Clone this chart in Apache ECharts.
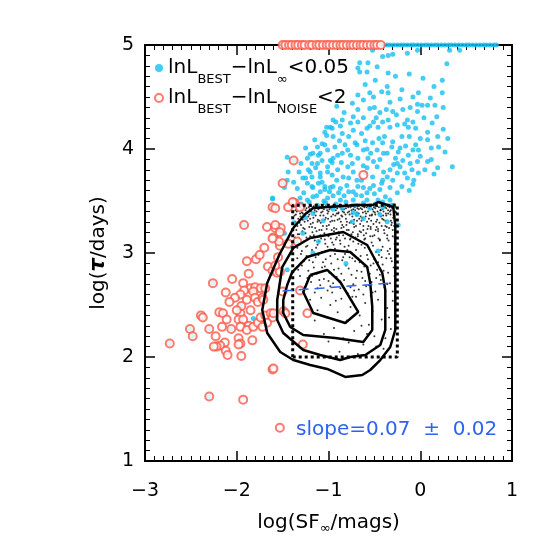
<!DOCTYPE html>
<html><head><meta charset="utf-8">
<script src="https://cdn.jsdelivr.net/npm/echarts@6/dist/echarts.min.js"></script>
<style>html,body{margin:0;padding:0;background:#fff}#c{width:554px;height:554px}</style>
</head><body><div id="c"></div>
<script>
const xTicks = [-3, -2, -1, 0, 1];
const yTicks = [1, 2, 3, 4, 5];
const legendLabels = ['{m|lnL}{s|BEST}{m|−lnL}{s|∞}{m|<0.05}', '{m|lnL}{s|BEST}{m|−lnL}{s|NOISE}{m|<2}'];
const slopeText = 'slope=0.07  ±  0.02';

const blueDots = [
[-0.52,4.95],[-0.41,4.89],[-0.35,4.90],[-0.30,4.91],[-0.14,4.92],[-0.03,4.95],[0.32,4.95],[0.43,4.95],
[-0.66,4.83],[-0.57,4.83],[0.29,4.82],[-0.68,4.78],[-0.47,4.79],
[-0.66,4.74],[-0.58,4.74],[-0.35,4.73],[-0.27,4.70],[0.03,4.68],[0.24,4.66],[-0.49,4.66],
[-0.36,4.60],[-0.68,4.52],[-0.55,4.54],[-0.51,4.50],[-0.35,4.54],[-0.02,4.54],[-0.08,4.50],[0.11,4.49],[0.24,4.54],
[-0.91,4.41],[-0.74,4.44],[-0.55,4.39],[-0.44,4.35],[-0.33,4.45],[-0.19,4.38],[-0.11,4.40],[-0.03,4.43],[0.02,4.42],[0.08,4.42],[0.16,4.42],[0.25,4.40],[-0.03,4.36],[0.18,4.31],
[-0.68,4.38],[-0.73,4.31],[-0.68,4.26],[-0.85,4.28],[-0.92,4.26],[-1.02,4.21],[-1.04,4.16],[-1.02,4.13],[-0.96,4.20],[-0.85,4.15],[-0.51,4.26],[-0.55,4.22],[-0.46,4.21],[-0.41,4.26],[-0.35,4.28],[-0.33,4.21],[-0.25,4.23],[-0.14,4.28],[-0.08,4.26],[-0.13,4.21],[-0.05,4.20],[0.08,4.16],[0.25,4.19],[0.19,4.12],[0.08,4.09],
[-1.25,4.01],[-1.12,4.02],[-1.23,3.91],[-1.11,3.94],[-1.01,3.99],[-0.95,3.91],[-0.96,3.87],[-0.85,3.96],[-0.82,4.04],[-0.76,3.94],[-0.71,4.06],[-0.68,3.91],[-0.62,3.99],[-0.57,3.91],[-0.52,4.06],[-0.47,3.99],[-0.41,4.06],[-0.36,3.96],[-0.31,4.02],[-0.27,3.91],[-0.24,3.97],[-0.19,3.89],[-0.13,3.94],[-0.08,3.99],[-0.02,3.99],[-0.03,3.88],[0.08,3.88],[0.05,3.80],[0.19,3.82],[0.35,3.83],[0.20,4.02],[-0.05,4.04],
[-1.22,3.80],[-1.14,3.82],[-1.09,3.73],[-1.01,3.78],[-0.96,3.75],[-0.90,3.80],[-0.84,3.73],[-0.79,3.83],[-0.73,3.78],[-0.69,3.70],[-0.58,3.82],[-0.52,3.73],[-0.47,3.83],[-0.41,3.70],[-0.36,3.73],[-0.33,3.80],[-0.25,3.77],[-0.22,3.83],[-0.14,3.72],[-0.09,3.80],[-0.02,3.77],[-1.25,3.72],
[-1.18,3.64],[-1.11,3.67],[-1.04,3.61],[-0.95,3.64],[-0.89,3.58],[-0.80,3.65],[-0.73,3.59],[-0.68,3.64],[-0.58,3.58],[-0.51,3.65],[-0.44,3.61],[-0.38,3.54],[-0.33,3.63],[-0.25,3.58],[-1.17,3.54],[-1.01,3.53],[-0.87,3.51],[-0.73,3.51],[-0.58,3.51],[-0.46,3.51],[-0.33,3.51],[-0.91,3.70],
[-0.98,4.21],[-0.95,4.28],[-1.04,4.04],[-1.17,3.96],[-1.09,3.96],[-1.07,3.89],[-0.98,3.89],[-1.01,3.83],[-1.20,3.78],[-1.09,3.77],[-1.28,3.72],[-1.18,3.73],[-1.23,3.67],[-1.17,3.63],[-1.07,3.68],[-1.04,3.64],[-0.98,3.63],[-1.09,3.59],[-1.44,3.78],[-1.45,3.70],[-1.48,3.63],[-1.38,3.51],[-1.31,3.53],[-1.23,3.51],[-1.61,3.53],[-1.45,3.92],
[-0.88,4.08],[-0.78,4.12],[-0.64,4.15],[-0.60,4.08],[-0.39,4.12],[-0.30,4.07],[-0.20,4.12],[-0.16,4.03],[0.00,4.10],[0.12,4.01],[0.27,3.97],[-1.15,4.09],[-0.93,4.02],[-0.74,3.86],[-0.62,3.84],[-0.54,3.96],[-0.44,3.90],[-0.29,3.85],[-0.17,3.77],[0.12,3.90],[-0.86,3.87],[-1.18,3.86],[-1.30,3.86],[-1.34,3.62],[-0.64,3.70],[-0.55,3.62],[-0.40,3.78],[-0.20,3.64],[-0.12,3.60],[-0.07,3.70],[-0.95,3.55],[-0.64,3.55],[-0.78,3.59],[-1.05,3.50],[-0.83,4.35],[-0.62,4.47],[-0.42,4.55],[-0.22,4.48],[0.04,4.30],[-0.30,4.36],
[-0.95,4.12],[-0.87,4.22],[-0.76,4.25],[-0.62,4.30],[-0.58,4.20],[-0.48,4.30],[-0.37,4.38],[-0.26,4.33],[-0.17,4.24],[0.13,4.25],[0.30,4.10],[-0.12,4.12],[-0.45,4.10],[-0.69,4.04],[-0.79,3.99],[-0.90,3.94],[-1.07,4.05],[-1.20,3.95],[-1.32,3.78],[-1.38,3.68],[-1.27,3.58],[-1.13,3.55],[-0.99,3.59],[-0.83,3.55],[-0.70,3.56],[-0.62,3.63],[-0.50,3.57],[-0.42,3.67],[-0.30,3.70],[-0.25,3.86],[-0.11,3.86],[0.00,3.93],[0.15,3.76],[-0.08,3.66],[-0.60,3.77],[-0.78,3.72],[-0.87,3.62],[-1.12,3.86],[-0.51,3.88],[-0.40,3.96],[-0.22,4.01],[-0.58,4.00],[-0.73,4.18],[-0.50,4.40],[-0.20,4.57],[0.15,4.60],[-0.60,4.62],[-0.12,4.72],
[-1.30,3.47],[-1.21,3.49],[-1.12,3.46],[-1.03,3.48],[-0.92,3.47],[-0.81,3.49],[-0.71,3.46],[-0.62,3.48],[-0.49,3.47],[-0.41,3.49],[-0.29,3.46],
[-1.38,3.29],[-1.25,3.34],[-1.17,3.38],[-1.06,3.31],[-1.28,3.19],[-1.35,3.10],[-1.11,3.11],[-1.17,3.00],[-0.81,2.90],[-0.46,3.02],[-0.74,3.30],[-0.62,3.33],[-0.44,3.37],[-0.36,3.30],[-0.24,3.27],[-0.69,3.37],[-0.95,3.42],[-0.85,3.43],[-0.55,3.43],[-0.31,3.46],[-1.48,3.19],[-1.53,3.24],[-1.40,3.06],[-0.73,3.39],[-0.41,3.44],[-1.45,2.84],
[-1.92,3.27],[-2.26,2.71],[-2.39,2.40],[-2.37,2.38],[-2.51,2.27],[-2.48,2.20],[-2.30,2.27],[-2.25,2.10],[-2.73,2.13],[-2.30,1.62],[-1.95,2.49],[-1.82,2.37],[-2.06,2.27],[-1.38,3.89],[-1.50,3.67],[-1.61,3.44],[-1.61,3.52]
];
const topBlueX = [-0.40,-0.36,-0.33,-0.29,-0.25,-0.21,-0.18,-0.14,-0.10,-0.07,-0.03,0.01,0.05,0.08,0.12,0.16,0.19,0.23,0.27,0.31,0.34,0.38,0.42,0.46,0.50,0.53,0.57,0.61,0.65,0.69,0.72,0.76,0.80,0.83];

const redCircles = [
[-1.67,3.25],[-1.58,3.24],[-1.60,3.15],[-1.53,3.07],[-1.89,2.92],[-1.79,2.94],[-1.87,2.80],[-1.66,2.87],[-1.61,2.83],[-1.56,2.81],[-1.53,2.82],[-1.93,2.71],[-1.85,2.66],[-1.80,2.67],[-1.74,2.66],[-1.82,2.63],[-1.92,2.64],[-1.96,2.60],[-2.02,2.57],[-2.08,2.53],[-1.89,2.55],[-1.80,2.57],[-1.77,2.53],[-1.72,2.57],[-1.96,2.42],[-1.98,2.36],[-1.93,2.36],[-1.87,2.30],[-1.96,2.29],[-1.89,2.26],[-1.82,2.29],[-1.77,2.33],[-1.74,2.38],[-1.69,2.40],[-1.63,2.42],[-2.19,2.43],[-2.15,2.42],[-2.11,2.36],[-2.16,2.29],[-2.23,2.20],[-2.13,2.14],[-2.18,2.11],[-2.22,2.10],[-2.12,2.06],[-2.10,2.02],[-1.98,2.18],[-1.83,2.16],[-1.96,2.13],[-1.98,2.12],[-1.95,2.01],[-1.61,1.88],[-1.93,1.59],[-1.61,2.38],[-1.49,2.44],[-1.53,1.32],
[-1.38,3.89],[-1.50,3.67],[-1.37,3.48],[-1.61,3.44],[-1.58,3.43],[-1.44,3.44],[-1.92,3.27],[-1.52,3.24],[-1.54,3.11],[-1.44,3.09],[-1.34,3.11],
[-1.39,3.49],[-1.31,3.44],[-1.58,3.27],[-1.53,3.20],[-1.61,3.14],[-1.55,2.96],[-1.58,2.88],[-1.69,2.66],[-1.71,2.55],[-1.60,2.42],[-1.67,2.33],[-1.72,2.29],[-1.47,2.42],[-1.31,2.64],[-1.50,2.63],[-1.23,2.42],[-1.28,2.12],[-1.60,1.89],[-0.62,3.75],
[-2.26,2.71],[-2.39,2.40],[-2.37,2.38],[-2.51,2.27],[-2.48,2.20],[-2.30,2.27],[-2.25,2.10],[-2.73,2.13],[-2.30,1.62],[-1.95,2.49],[-2.06,2.27],
[-2.05,2.75],[-2.12,2.62],[-1.70,3.05],[-1.75,2.98],[-2.00,2.45],[-1.85,2.45]
];
const topRedX = [-1.50,-1.47,-1.43,-1.40,-1.36,-1.33,-1.29,-1.26,-1.21,-1.18,-1.13,-1.10,-1.06,-1.02,-0.99,-0.95,-0.91,-0.87,-0.84,-0.80,-0.76,-0.73,-0.69,-0.65,-0.62,-0.58,-0.54,-0.50,-0.47,-0.43];
const topRowY = 5;

const blackDots = [
[-1.36,3.41],[-1.35,3.22],[-1.34,3.05],[-1.33,3.33],[-1.32,3.14],[-1.31,3.44],[-1.30,3.27],[-1.29,3.02],[-1.28,3.38],[-1.27,3.11],[-1.26,3.30],[-1.25,3.19],[-1.24,3.43],[-1.23,3.07],[-1.22,3.35],[-1.21,3.25],[-1.20,3.16],[-1.19,3.40],[-1.18,3.03],[-1.17,3.29],[-1.16,3.45],[-1.15,3.12],[-1.14,3.36],[-1.13,3.21],[-1.12,3.08],[-1.11,3.42],[-1.10,3.31],[-1.09,3.17],[-1.08,3.39],[-1.07,3.01],[-1.06,3.26],[-1.05,3.44],[-1.04,3.13],[-1.03,3.34],[-1.02,3.23],[-1.01,3.06],[-1.00,3.40],[-0.99,3.18],[-0.98,3.30],[-0.97,3.43],[-0.96,3.10],[-0.95,3.37],[-0.94,3.24],[-0.93,3.04],[-0.92,3.41],[-0.91,3.15],[-0.90,3.32],[-0.89,3.20],[-0.88,3.45],[-0.87,3.09],[-0.86,3.36],[-0.85,3.27],[-0.84,3.02],[-0.83,3.42],[-0.82,3.14],[-0.81,3.33],[-0.80,3.22],[-0.79,3.39],[-0.78,3.07],[-0.77,3.29],[-0.76,3.44],[-0.75,3.18],[-0.74,3.35],[-0.73,3.11],[-0.72,3.25],[-0.71,3.41],[-0.70,3.03],[-0.69,3.31],[-0.68,3.16],[-0.67,3.38],[-0.66,3.21],[-0.65,3.43],[-0.64,3.08],[-0.63,3.34],[-0.62,3.26],[-0.61,3.13],[-0.60,3.40],[-0.59,3.19],[-0.58,3.30],[-0.57,3.45],[-0.56,3.05],[-0.55,3.36],[-0.54,3.23],[-0.53,3.10],[-0.52,3.42],[-0.51,3.28],[-0.50,3.17],[-0.49,3.37],[-0.48,3.01],[-0.47,3.32],[-0.46,3.21],[-0.45,3.44],[-0.44,3.12],[-0.43,3.35],[-0.42,3.26],[-0.41,3.06],[-0.40,3.40],[-0.39,3.19],[-0.38,3.31],[-0.37,3.43],[-0.36,3.14],[-0.35,3.38],[-0.34,3.24],[-0.33,3.04],[-0.32,3.41],[-0.31,3.29],[-0.30,3.16],[-0.29,3.36],[-0.28,3.09],[-0.27,3.44],
[-1.355,3.37],[-1.335,3.18],[-1.315,3.29],[-1.295,3.42],[-1.275,3.24],[-1.255,3.35],[-1.235,3.13],[-1.215,3.44],[-1.195,3.28],[-1.175,3.20],[-1.155,3.39],[-1.135,3.05],[-1.115,3.32],[-1.095,3.43],[-1.075,3.22],[-1.055,3.36],[-1.035,3.09],[-1.015,3.41],[-0.995,3.27],[-0.975,3.14],[-0.955,3.44],[-0.935,3.31],[-0.915,3.23],[-0.895,3.38],[-0.875,3.12],[-0.855,3.42],[-0.835,3.25],[-0.815,3.37],[-0.795,3.03],[-0.775,3.40],[-0.755,3.30],[-0.735,3.20],[-0.715,3.44],[-0.695,3.36],[-0.675,3.09],[-0.655,3.28],[-0.635,3.42],[-0.615,3.17],[-0.595,3.35],[-0.575,3.23],[-0.555,3.43],[-0.535,3.31],[-0.515,3.07],[-0.495,3.39],[-0.475,3.25],[-0.455,3.14],[-0.435,3.41],[-0.415,3.33],[-0.395,3.22],[-0.375,3.38],[-0.355,3.02],[-0.335,3.44],[-0.315,3.27],[-0.295,3.34],[-0.275,3.20],
[-1.37,3.36],[-1.33,3.45],[-1.29,3.39],[-1.25,3.41],[-1.21,3.37],[-1.17,3.44],[-1.13,3.40],[-1.09,3.36],[-1.05,3.42],[-1.01,3.38],[-0.97,3.35],[-0.93,3.44],[-0.89,3.39],[-0.85,3.35],[-0.81,3.43],[-0.77,3.37],[-0.73,3.42],[-0.69,3.39],[-0.65,3.35],[-0.61,3.44],[-0.57,3.40],[-0.53,3.36],[-0.49,3.43],[-0.45,3.38],[-0.41,3.42],[-0.37,3.36],[-0.33,3.40],[-0.29,3.43],[-1.36,3.30],[-1.28,3.32],[-1.20,3.33],[-1.12,3.30],[-1.04,3.32],[-0.96,3.31],[-0.88,3.33],[-0.80,3.30],[-0.72,3.32],[-0.64,3.31],[-0.56,3.33],[-0.48,3.30],[-0.40,3.32],[-0.32,3.31],
[-1.365,3.15],[-1.345,3.40],[-1.325,3.09],[-1.305,3.35],[-1.285,3.21],[-1.265,3.44],[-1.245,3.06],[-1.225,3.31],[-1.205,3.42],[-1.185,3.15],[-1.165,3.34],[-1.145,3.24],[-1.125,3.44],[-1.105,3.11],[-1.085,3.29],[-1.065,3.40],[-1.045,3.19],[-1.025,3.02],[-1.005,3.33],[-0.985,3.44],[-0.965,3.22],[-0.945,3.08],[-0.925,3.36],[-0.905,3.43],[-0.885,3.17],[-0.865,3.30],[-0.845,3.40],[-0.825,3.06],[-0.805,3.27],[-0.785,3.44],[-0.765,3.13],[-0.745,3.38],[-0.725,3.28],[-0.705,3.15],[-0.685,3.43],[-0.665,3.33],[-0.645,3.20],[-0.625,3.39],[-0.605,3.05],[-0.585,3.44],[-0.565,3.26],[-0.545,3.16],[-0.525,3.37],[-0.505,3.44],[-0.485,3.22],[-0.465,3.40],[-0.445,3.29],[-0.425,3.03],[-0.405,3.36],[-0.385,3.44],[-0.365,3.25],[-0.345,3.12],[-0.325,3.37],[-0.305,3.43],[-0.285,3.26],[-0.265,3.39],
[-1.35,3.45],[-1.31,3.38],[-1.27,3.45],[-1.23,3.39],[-1.19,3.45],[-1.15,3.41],[-1.11,3.45],[-1.07,3.43],[-1.03,3.45],[-0.99,3.42],[-0.95,3.45],[-0.91,3.38],[-0.87,3.44],[-0.83,3.39],[-0.79,3.45],[-0.75,3.41],[-0.71,3.45],[-0.67,3.42],[-0.63,3.45],[-0.59,3.38],[-0.55,3.45],[-0.51,3.40],[-0.47,3.45],[-0.43,3.41],[-0.39,3.45],[-0.35,3.41],[-0.31,3.45],[-0.27,3.40],
[-1.34,3.26],[-1.26,3.23],[-1.18,3.25],[-1.10,3.22],[-1.02,3.26],[-0.94,3.21],[-0.86,3.24],[-0.78,3.22],[-0.70,3.26],[-0.62,3.22],[-0.54,3.25],[-0.46,3.23],[-0.38,3.26],[-0.30,3.22],
[-1.32,3.18],[-1.24,3.15],[-1.16,3.17],[-1.08,3.14],[-1.00,3.16],[-0.92,3.13],[-0.84,3.17],[-0.76,3.14],[-0.68,3.18],[-0.60,3.14],[-0.52,3.16],[-0.44,3.13],[-0.36,3.17],[-0.28,3.15],
[-1.34,2.95],[-1.31,2.78],[-1.29,2.88],[-1.26,2.67],[-1.24,2.97],[-1.22,2.83],[-1.19,2.72],[-1.17,2.91],[-1.15,2.62],[-1.13,2.80],[-1.11,2.98],[-1.09,2.69],[-1.07,2.86],[-1.05,2.75],[-1.03,2.94],[-1.01,2.64],[-0.99,2.81],[-0.97,2.90],[-0.95,2.71],[-0.93,2.99],[-0.91,2.77],[-0.89,2.85],[-0.87,2.66],[-0.85,2.93],[-0.83,2.74],[-0.81,2.88],[-0.79,2.61],[-0.77,2.96],[-0.75,2.79],[-0.73,2.70],[-0.71,2.92],[-0.69,2.83],[-0.67,2.65],[-0.65,2.97],[-0.63,2.76],[-0.61,2.87],[-0.59,2.68],[-0.57,2.94],[-0.55,2.80],[-0.53,2.72],[-0.51,2.90],[-0.49,2.63],[-0.47,2.84],[-0.45,2.98],[-0.43,2.74],[-0.41,2.89],[-0.39,2.67],[-0.37,2.95],[-0.35,2.81],[-0.33,2.71],[-0.31,2.92],[-0.29,2.86],
[-1.30,2.99],[-1.21,2.93],[-1.14,2.96],[-1.06,2.91],[-0.98,2.97],[-0.90,2.94],[-0.82,2.99],[-0.74,2.95],[-0.66,2.91],[-0.58,2.98],[-0.50,2.94],[-0.42,2.96],[-0.34,2.99],[-1.18,2.78],[-1.00,2.73],[-0.86,2.80],[-0.70,2.76],[-0.56,2.69],[-0.44,2.79],[-0.96,2.62],[-0.62,2.60],
[-1.33,2.84],[-1.27,2.92],[-1.23,2.76],[-1.16,2.86],[-1.10,2.74],[-1.04,2.87],[-0.98,2.68],[-0.94,2.84],[-0.88,2.72],[-0.84,2.96],[-0.78,2.85],[-0.72,2.64],[-0.68,2.95],[-0.64,2.82],[-0.60,2.73],[-0.54,2.88],[-0.48,2.76],[-0.46,2.91],[-0.40,2.83],[-0.36,2.70],[-0.32,2.95],[-0.28,2.78],[-1.12,2.66],[-0.76,2.67],[-0.52,2.62],[-0.30,2.63],
[-1.20,2.55],[-1.12,2.45],[-1.08,2.57],[-1.02,2.38],[-0.98,2.50],[-0.94,2.28],[-0.90,2.43],[-0.86,2.56],[-0.84,2.18],[-0.80,2.35],[-0.76,2.48],[-0.72,2.25],[-0.70,2.58],[-0.66,2.40],[-0.62,2.12],[-0.60,2.52],[-0.56,2.31],[-0.52,2.44],[-0.50,2.20],[-0.46,2.55],[-0.42,2.36],[-0.40,2.08],[-0.36,2.47],[-0.32,2.27],[-0.30,2.54],[-1.15,2.35],[-1.05,2.22],[-0.88,2.05],[-0.78,2.14],[-0.68,2.03],[-0.58,2.22],[-0.48,2.10],[-0.38,2.18],[-0.92,2.54],[-0.74,2.58],[-0.54,2.59],[-1.00,2.15],[-0.64,2.30],[-0.34,2.38]
];

const contour1 = [[-1.166,3.433],[-0.687,3.462],[-0.512,3.462],[-0.458,3.490],[-0.392,3.471],[-0.294,3.442],[-0.272,3.269],[-0.272,2.260],[-0.327,2.096],[-0.436,1.971],[-0.545,1.875],[-0.632,1.827],[-0.817,1.808],[-1.014,1.885],[-1.199,1.923],[-1.384,1.971],[-1.526,2.048],[-1.668,2.231],[-1.722,2.452],[-1.668,2.712],[-1.537,2.981],[-1.384,3.240],[-1.253,3.375],[-1.166,3.433]];
const contour2 = [[-1.199,3.144],[-0.839,3.202],[-0.578,3.077],[-0.414,2.808],[-0.381,2.644],[-0.381,2.260],[-0.436,2.115],[-0.599,2.019],[-0.763,2.000],[-0.872,1.971],[-1.090,2.019],[-1.275,2.067],[-1.493,2.231],[-1.559,2.356],[-1.559,2.548],[-1.504,2.865],[-1.384,3.048],[-1.199,3.144]];
const contour3 = [[-1.395,2.817],[-1.232,2.962],[-0.981,3.029],[-0.763,3.010],[-0.578,2.865],[-0.545,2.712],[-0.523,2.481],[-0.523,2.260],[-0.621,2.144],[-0.926,2.183],[-1.275,2.212],[-1.417,2.288],[-1.493,2.423],[-1.493,2.548],[-1.450,2.692],[-1.395,2.817]];
const contour4 = [[-1.199,2.788],[-1.014,2.837],[-0.872,2.721],[-0.676,2.433],[-0.817,2.327],[-1.166,2.423],[-1.275,2.625],[-1.199,2.788]];
const boxX = [-1.39, -0.25];
const boxY = [2.0, 3.46];
const fitLine = [[-1.50,2.635],[-0.30,2.712]];

const FONT = 'DejaVu Sans';
const BLUE = '#17bff2', RED = '#fa5a4a', FIT = '#2e63f2';
const minus = v => String(v).replace('-', '−');

function xAx(pos, labels) {
  return {
    type:'value', min:xTicks[0], max:xTicks[xTicks.length-1], interval:1, position:pos,
    axisLine:{show:true, onZero:false, lineStyle:{color:'#000', width:2}},
    axisTick:{show:true, inside:true, length:10, lineStyle:{color:'#000', width:1.5}},
    minorTick:{show:true, splitNumber:10, length:5, lineStyle:{color:'#000', width:1}},
    splitLine:{show:false},
    axisLabel:{show:labels, margin:21, fontSize:19, color:'#000', fontFamily:FONT, formatter:minus},
    name: labels ? '{a|log(SF}{s|∞}{a|/mags)}' : '',
    nameLocation:'middle', nameGap:50,
    nameTextStyle:{rich:{a:{fontSize:20, fontFamily:FONT, color:'#000', lineHeight:24, verticalAlign:'middle'}, s:{fontSize:13, fontFamily:FONT, color:'#000', lineHeight:10, padding:[11,0,0,0], verticalAlign:'top'}}}
  };
}
function yAx(pos, labels) {
  return {
    type:'value', min:yTicks[0], max:yTicks[yTicks.length-1], interval:1, position:pos,
    axisLine:{show:true, onZero:false, lineStyle:{color:'#000', width:2}},
    axisTick:{show:true, inside:true, length:10, lineStyle:{color:'#000', width:1.5}},
    minorTick:{show:true, splitNumber:10, length:5, lineStyle:{color:'#000', width:1}},
    splitLine:{show:false},
    axisLabel:{show:labels, margin:11, fontSize:19, color:'#000', fontFamily:FONT, formatter:minus},
    name: labels ? '{a|log(}{t|τ}{a|/days)}' : '',
    nameLocation:'middle', nameGap:36,
    nameTextStyle:{rich:{a:{fontSize:20, fontFamily:FONT, color:'#000'}, t:{fontSize:21, fontFamily:FONT, color:'#000', fontWeight:'bold', fontStyle:'italic'}}}
  };
}
const poly = d => ({type:'line', data:d, xAxisIndex:0, yAxisIndex:0, showSymbol:false, symbol:'none', silent:true, z:4,
  lineStyle:{color:'#000', width:2.5}});

const boxData = [[boxX[0],boxY[0]],[boxX[1],boxY[0]],[boxX[1],boxY[1]],[boxX[0],boxY[1]],[boxX[0],boxY[0]]];

const chart = echarts.init(document.getElementById('c'), null, {renderer:'canvas'});
chart.setOption({
  animation:false,
  backgroundColor:'#fff',
  grid:{left:145, right:42, top:45, bottom:93},
  title:{text:slopeText, left:291, top:415, textStyle:{color:FIT, fontSize:20, fontWeight:'normal', fontFamily:FONT}},
  legend:{
    orient:'vertical', left:149, top:53, itemGap:2, itemWidth:8, itemHeight:8,
    data:[{name:'A', icon:'circle'}, {name:'B', icon:'emptyCircle'}],
    formatter: n => n === 'A' ? legendLabels[0] : legendLabels[1],
    textStyle:{color:'#000', fontFamily:FONT, rich:{
      m:{fontSize:20, fontFamily:FONT, color:'#000', lineHeight:20, verticalAlign:'middle'},
      s:{fontSize:13, fontFamily:FONT, color:'#000', lineHeight:13, padding:[15,0,0,0], verticalAlign:'top'}}}
  },
  xAxis:[xAx('bottom', true), xAx('top', false)],
  yAxis:[yAx('left', true), yAx('right', false)],
  series:[
    {type:'scatter', name:'dots', data:blackDots, symbol:'circle', symbolSize:2, itemStyle:{color:'#000'}, z:1, silent:true},
    {type:'scatter', name:'A', data:blueDots.concat(topBlueX.map(x => [x, topRowY])), symbol:'circle', symbolSize:5, itemStyle:{color:BLUE}, z:2},
    {type:'scatter', name:'B', data:redCircles.concat(topRedX.map(x => [x, topRowY])), symbol:'emptyCircle', symbolSize:8, itemStyle:{color:RED, borderColor:RED, borderWidth:1}, z:3},
    poly(contour1), poly(contour2), poly(contour3), poly(contour4),
    {type:'line', data:boxData, showSymbol:false, symbol:'none', silent:true, z:5, lineStyle:{color:'#000', width:3, type:[3,3]}},
    {type:'line', data:fitLine, showSymbol:false, symbol:'none', silent:true, z:6, lineStyle:{color:FIT, width:1.5, type:[10,6]}}
  ]
});
</script></body></html>
